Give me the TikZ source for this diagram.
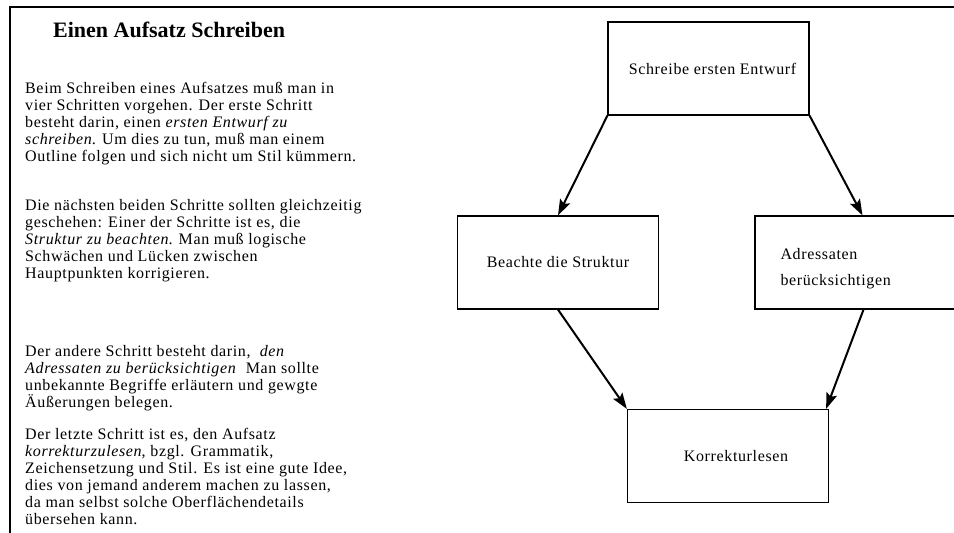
\documentclass[tikz,border=0pt]{standalone}
\usepackage{fontspec}
\setmainfont{Liberation Serif}[LetterSpace=4.0]
\usetikzlibrary{arrows.meta}
\usetikzlibrary{calc,positioning}

\newcommand{\bodyfont}{\fontsize{16}{17}\selectfont}

\begin{document}
\begin{tikzpicture}[x=1pt,y=-1pt,>={Stealth[length=16pt,width=11pt,inset=3pt]},
  stepbox/.style={draw, line width=1.2pt, minimum width=201pt, minimum height=93pt,
  inner sep=0pt, font=\bodyfont},
  flow/.style={->, line width=2pt},
  para/.style={anchor=north west, align=left, inner sep=0pt, font=\bodyfont}]

\useasboundingbox (0,0) rectangle (954,533);
\clip (0,0) rectangle (954,533);
\draw[line width=2pt] (10,533) -- (10,7) -- (954,7);

\node[anchor=base west, inner sep=0pt, font=\fontsize{22}{26}\selectfont\bfseries\addfontfeatures{LetterSpace=0}] (title) at (53,37) {Einen Aufsatz Schreiben};

\node[para] (p1) at (25,82) {Beim Schreiben eines Aufsatzes muß man in\\
  vier Schritten vorgehen. Der erste Schritt\\
  besteht darin, einen \textit{ersten Entwurf zu}\\
  \textit{schreiben}. Um dies zu tun, muß man einem\\
  Outline folgen und sich nicht um Stil kümmern.};
\node[para] (p2) at (25,199) {Die nächsten beiden Schritte sollten gleichzeitig\\
  geschehen: Einer der Schritte ist es, die\\
  \textit{Struktur zu beachten}. Man muß logische\\
  Schwächen und Lücken zwischen\\
  Hauptpunkten korrigieren.};
\node[para] (p3) at (25,345) {Der andere Schritt besteht darin, \ \textit{den}\\
  \textit{Adressaten zu berücksichtigen} \ Man sollte\\
  unbekannte Begriffe erläutern und gewgte\\
  Äußerungen belegen.};
\node[para] (p4) at (25,428) {Der letzte Schritt ist es, den Aufsatz\\
  \textit{korrekturzulesen}, bzgl. Grammatik,\\
  Zeichensetzung und Stil. Es ist eine gute Idee,\\
  dies von jemand anderem machen zu lassen,\\
  da man selbst solche Oberflächendetails\\
  übersehen kann.};

\node[stepbox] (entwurf) at (708.5,68.5) {\hspace{8pt}Schreibe ersten Entwurf};
\node[stepbox] (struktur) at (558,262.5) {Beachte die Struktur\hspace{10pt}};
\node[stepbox, minimum width=205pt, text width=154pt, align=left, text height=24pt, text depth=30pt,
  font=\fontsize{16}{26}\selectfont] (adressat) at (857.5,262.5) {Adressaten\\berücksichtigen};
\node[stepbox] (korrektur) at (728,456) {\hspace{16pt}Korrekturlesen};

\draw[flow] (entwurf.south west) -- (struktur.north);
\draw[flow] (entwurf.south east) -- ([xshift=5pt]adressat.north);
\draw[flow] (struktur.south) -- (korrektur.north west);
\draw[flow] ([xshift=6pt]adressat.south) -- ([xshift=-3pt]korrektur.north east);

\end{tikzpicture}
\end{document}
